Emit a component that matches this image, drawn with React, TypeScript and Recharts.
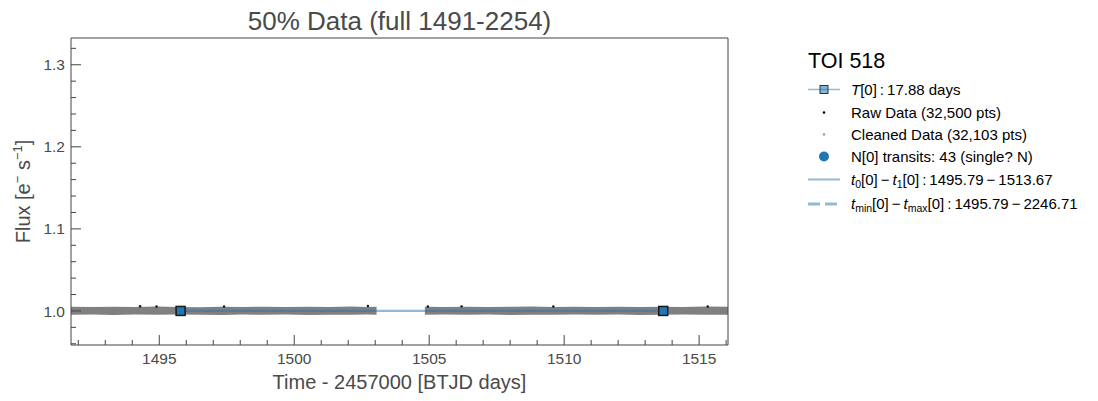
import {
  Area,
  ComposedChart,
  Line,
  ReferenceArea,
  Scatter,
  XAxis,
  YAxis,
} from "recharts";

const WIDTH = 1098;
const HEIGHT = 401;
const FONT = '"Liberation Sans", Arial, sans-serif';
const AXIS_COLOR = "#444";
const TEXT_COLOR = "#4a4a4a";

const X_MIN = 1491.73;
const X_MAX = 1516.07;
const Y_MIN = 0.9585;
const Y_MAX = 1.3326;

const X_TICKS = [
  1492, 1493, 1494, 1495, 1496, 1497, 1498, 1499, 1500, 1501, 1502, 1503, 1504,
  1505, 1506, 1507, 1508, 1509, 1510, 1511, 1512, 1513, 1514, 1515, 1516,
];
const X_LABELS = [1495, 1500, 1505, 1510, 1515];
const Y_TICKS = [
  0.96, 0.98, 1.0, 1.02, 1.04, 1.06, 1.08, 1.1, 1.12, 1.14, 1.16, 1.18, 1.2,
  1.22, 1.24, 1.26, 1.28, 1.3, 1.32,
];
const Y_LABELS = [1.0, 1.1, 1.2, 1.3];

// cleaned data envelope (dense cloud of grey points), two segments with a gap
const CLEAN_T = [
  1491.73, 1492.5, 1493.3, 1494.1, 1494.9, 1495.7, 1496.5, 1497.3, 1498.1,
  1498.9, 1499.7, 1500.5, 1501.3, 1502.1, 1502.7, 1503.05, 1503.9, 1504.84,
  1505.6, 1506.4, 1507.2, 1508.0, 1508.8, 1509.6, 1510.4, 1511.2, 1512.0,
  1512.8, 1513.6, 1514.4, 1515.2, 1516.07,
];
const CLEAN_HI = [
  1.0052, 1.0048, 1.005, 1.0047, 1.0053, 1.0049, 1.0046, 1.0051, 1.0048,
  1.0052, 1.0047, 1.005, 1.0049, 1.0053, 1.0048, 1.005, null, 1.0051, 1.0048,
  1.0052, 1.0047, 1.005, 1.0053, 1.0048, 1.0051, 1.0047, 1.0052, 1.0049,
  1.005, 1.0048, 1.0053, 1.005,
];
const CLEAN_LO = [
  0.9954, 0.9957, 0.9952, 0.9956, 0.9953, 0.9958, 0.9955, 0.9951, 0.9956,
  0.9954, 0.9957, 0.9952, 0.9955, 0.9953, 0.9956, 0.9955, null, 0.9954,
  0.9956, 0.9953, 0.9957, 0.9952, 0.9955, 0.9954, 0.9957, 0.9953, 0.9956,
  0.9952, 0.9955, 0.9957, 0.9953, 0.9955,
];

// raw data points that stick out of the cleaned cloud
const RAW_T = [1494.29, 1494.9, 1497.4, 1502.73, 1504.95, 1506.2, 1509.6, 1515.32];
const RAW_F = [1.0058, 1.0054, 1.0055, 1.0061, 1.0054, 1.0056, 1.0055, 1.0054];

const TRANSIT_T = [1495.79, 1513.67];
const TRANSIT_F = [1.0, 1.0];

const bandData = CLEAN_T.map((t, i) => ({
  t,
  band: CLEAN_HI[i] == null ? null : [CLEAN_LO[i], CLEAN_HI[i]],
}));
const rawData = RAW_T.map((t, i) => ({ t, f: RAW_F[i] }));
const transitData = TRANSIT_T.map((t, i) => ({ t, f: TRANSIT_F[i] }));

const near = (list: number[], v: number) => list.some((m) => Math.abs(m - v) < 1e-6);

function XTick(props: any) {
  const { x, y, payload } = props;
  const major = near(X_LABELS, payload.value);
  return (
    <g>
      <line x1={x} x2={x} y1={y} y2={y - (major ? 10 : 5)} stroke={AXIS_COLOR} strokeWidth={1} />
      {major && (
        <text x={x} y={y + 8} dy="0.71em" textAnchor="middle" fontSize={15.5} fill={TEXT_COLOR} fontFamily={FONT}>
          {payload.value}
        </text>
      )}
    </g>
  );
}

function YTick(props: any) {
  const { x, y, payload } = props;
  const major = near(Y_LABELS, payload.value);
  return (
    <g>
      <line x1={x} x2={x + (major ? 10 : 5)} y1={y} y2={y} stroke={AXIS_COLOR} strokeWidth={1} />
      {major && (
        <text x={x - 6} y={y} dy="0.36em" textAnchor="end" fontSize={15.5} fill={TEXT_COLOR} fontFamily={FONT}>
          {payload.value.toFixed(1)}
        </text>
      )}
    </g>
  );
}

const Square = (props: any) => (
  <rect x={props.cx - 4.5} y={props.cy - 4.5} width={9} height={9} fill="#1f77b4" stroke="#1a1a1a" strokeWidth={1.5} />
);
const Dot = (props: any) => <circle cx={props.cx} cy={props.cy} r={1.2} fill="#111" />;
const BigDot = (props: any) => <circle cx={props.cx} cy={props.cy} r={5} fill="#1f77b4" />;

const LEGEND_ROWS = [89.5, 112.5, 134.5, 156.5, 179.5, 204];

function Legend() {
  const hx1 = 808;
  const hx2 = 840;
  const hc = 824;
  const tx = 851;
  const fs = 15;
  const r = LEGEND_ROWS;
  return (
    <svg width={WIDTH} height={HEIGHT} style={{ position: "absolute", left: 0, top: 0, pointerEvents: "none" }}>
      <g fontFamily={FONT} fill="#000">
        <text x={808} y={68} fontSize={21.5}>TOI 518</text>

        <line x1={hx1} x2={hx2} y1={r[0]} y2={r[0]} stroke="#8fbbd9" strokeWidth={1.5} />
        <rect x={hc - 4} y={r[0] - 4} width={8} height={8} fill="#1f77b4" fillOpacity={0.55} stroke="#333" strokeWidth={1} />
        <text x={tx} y={r[0] + 5} fontSize={fs}>
          <tspan fontStyle="italic">T</tspan>[0]{"\u2009:\u200917.88 days"}
        </text>

        <circle cx={hc} cy={r[1]} r={1.3} fill="#000" />
        <text x={tx} y={r[1] + 5} fontSize={fs}>Raw Data (32,500 pts)</text>

        <circle cx={hc} cy={r[2]} r={1.2} fill="#999" />
        <text x={tx} y={r[2] + 5} fontSize={fs}>Cleaned Data (32,103 pts)</text>

        <circle cx={hc} cy={r[3]} r={5} fill="#1f77b4" />
        <text x={tx} y={r[3] + 5} fontSize={fs}>N[0] transits: 43 (single? N)</text>

        <line x1={hx1} x2={hx2} y1={r[4]} y2={r[4]} stroke="#8fbbd9" strokeWidth={2} />
        <text x={tx} y={r[4] + 5} fontSize={fs}>
          <tspan fontStyle="italic">t</tspan>
          <tspan fontSize={10.5} dy={3}>0</tspan>
          <tspan dy={-3}>[0]{"\u2009\u2212\u2009"}</tspan>
          <tspan fontStyle="italic">t</tspan>
          <tspan fontSize={10.5} dy={3}>1</tspan>
          <tspan dy={-3}>[0]{"\u2009:\u20091495.79\u2009\u2212\u20091513.67"}</tspan>
        </text>

        <line x1={hx1} x2={hx2} y1={r[5]} y2={r[5]} stroke="#8fbbd9" strokeWidth={3} strokeDasharray="12 5" />
        <text x={tx} y={r[5] + 5} fontSize={fs}>
          <tspan fontStyle="italic">t</tspan>
          <tspan fontSize={10.5} dy={3}>min</tspan>
          <tspan dy={-3}>[0]{"\u2009\u2212\u2009"}</tspan>
          <tspan fontStyle="italic">t</tspan>
          <tspan fontSize={10.5} dy={3}>max</tspan>
          <tspan dy={-3}>[0]{"\u2009:\u20091495.79\u2009\u2212\u20092246.71"}</tspan>
        </text>
      </g>
    </svg>
  );
}

export default function App() {
  return (
    <div style={{ position: "absolute", left: 0, top: 0, width: WIDTH, height: HEIGHT, background: "#fff", fontFamily: FONT }}>
      <ComposedChart width={WIDTH} height={HEIGHT} data={bandData} margin={{ top: 38, right: 370, bottom: 0, left: 0 }}>
        <XAxis
          dataKey="t"
          type="number"
          domain={[X_MIN, X_MAX]}
          allowDataOverflow
          ticks={X_TICKS}
          interval={0}
          tickSize={0}
          tickMargin={0}
          tickLine={false}
          axisLine={false}
          tick={<XTick />}
          height={56}
        />
        <YAxis
          type="number"
          domain={[Y_MIN, Y_MAX]}
          allowDataOverflow
          ticks={Y_TICKS}
          interval={0}
          tickSize={0}
          tickMargin={0}
          tickLine={false}
          axisLine={false}
          tick={<YTick />}
          width={71}
        />
        <Scatter data={rawData} dataKey="f" shape={Dot} isAnimationActive={false} />
        <Area
          dataKey="band"
          type="linear"
          stroke="none"
          fill="#808080"
          fillOpacity={1}
          connectNulls={false}
          dot={false}
          activeDot={false}
          isAnimationActive={false}
        />
        <Line
          data={transitData}
          dataKey="f"
          type="linear"
          stroke="#1f77b4"
          strokeOpacity={0.5}
          strokeWidth={2.2}
          dot={false}
          activeDot={false}
          isAnimationActive={false}
        />
        <Scatter data={transitData} dataKey="f" shape={BigDot} isAnimationActive={false} />
        <Scatter data={transitData} dataKey="f" shape={Square} isAnimationActive={false} />
        <ReferenceArea
          x1={X_MIN}
          x2={X_MAX}
          y1={Y_MIN}
          y2={Y_MAX}
          fill="none"
          stroke={AXIS_COLOR}
          strokeWidth={1}
          strokeOpacity={1}
          ifOverflow="visible"
        />
        <text x={399.5} y={30} textAnchor="middle" fontSize={26} fill={TEXT_COLOR} fontFamily={FONT}>
          50% Data (full 1491-2254)
        </text>
        <text x={399.5} y={389} textAnchor="middle" fontSize={20} fill={TEXT_COLOR} fontFamily={FONT}>
          Time - 2457000 [BTJD days]
        </text>
        <text
          x={30}
          y={191.5}
          textAnchor="middle"
          fontSize={20}
          fill={TEXT_COLOR}
          fontFamily={FONT}
          transform="rotate(-90 30 191.5)"
        >
          Flux [e<tspan fontSize={13} dy={-8}>−</tspan>
          <tspan dy={8}> s</tspan>
          <tspan fontSize={13} dy={-8}>−1</tspan>
          <tspan dy={8}>]</tspan>
        </text>
      </ComposedChart>
      <Legend />
    </div>
  );
}
